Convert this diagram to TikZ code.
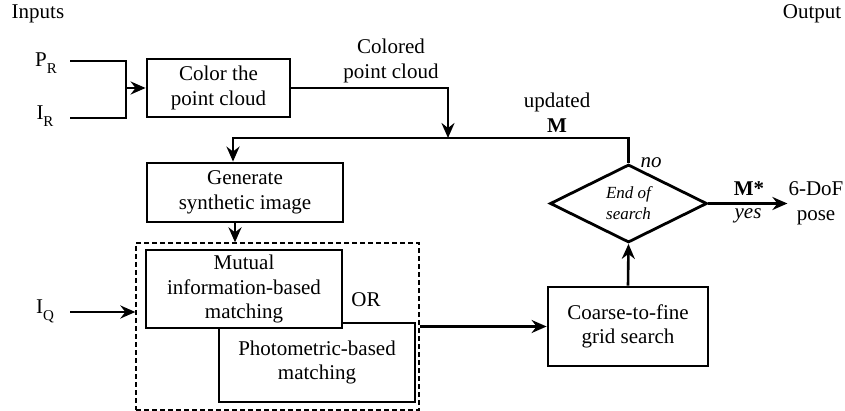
\documentclass[tikz,border=0pt]{standalone}
\usepackage{fontspec}
\setmainfont{Liberation Serif}
\usetikzlibrary{shapes.geometric,arrows.meta,positioning}

\newcommand{\lowsub}[1]{\raisebox{-7pt}{\fontsize{15}{15}\selectfont #1}}

\tikzset{
    box/.style={draw, line width=2.8pt, align=center, inner sep=0pt, fill=white},
    lbl/.style={align=center, inner sep=1pt},
    wire/.style={line width=2.6pt},
    arr/.style={wire, -{Stealth[length=15pt,width=13pt,inset=5pt]}}
}

\begin{document}
\begin{tikzpicture}[x=1pt,y=-1pt,font=\fontsize{21}{24.5}\selectfont]
        \useasboundingbox (0,0) rectangle (845,411);
        % Headings
        \node[lbl] (inputs) at (38,14) {Inputs};
        \node[lbl] (output) at (812,14) {Output};
        % Inputs
        \node[lbl] (pr) at (46,63) {P\lowsub{R}};
        \node[lbl] (ir) at (45,116) {I\lowsub{R}};
        \node[lbl] (iq) at (45,311) {I\lowsub{Q}};
        \coordinate (pr0) at (70,61);
        \coordinate (ir0) at (70,118);
        \coordinate (iq0) at (70,312);
        \coordinate (join) at (126,88);
        \coordinate (merge) at (448,138);
        % Boxes
        \node[box, minimum width=143pt, minimum height=58pt] (color) at (218.5,88) {Color the\\point cloud};
        \node[box, minimum width=196pt, minimum height=59pt] (generate) at (245,192.5) {Generate\\synthetic image};
        \node[draw, dash pattern=on 5pt off 3pt, line width=1.3pt, minimum width=283pt, minimum height=167pt] (match) at (277.5,326.5) {};
        \node[box, minimum width=196pt, minimum height=79pt] (photo) at (317,362.5) {Photometric-based\\matching};
        \node[box, minimum width=196pt, minimum height=78pt] (mutual) at (244,289) {Mutual\\information-based\\matching};
        \node[lbl] (or) at (366,300) {OR};
        \node[box, minimum width=160pt, minimum height=79pt] (coarse) at (628,326.5) {Coarse-to-fine\\grid search};
        \node[draw, diamond, line width=2.8pt, inner sep=0pt, minimum width=157pt, minimum height=63pt,
              align=center, font=\fontsize{17}{21}\selectfont\itshape] (search) at (628.5,203.5) {End of\\search};
        \node[lbl] (pose) at (816,203.5) {6-DoF\\pose};
        % Labels on the wires
        \node[lbl] (colored) at (391,61) {Colored\\point cloud};
        \node[lbl] (updated) at (557,112.5) {updated\\\textbf{M}};
        \node[lbl, font=\fontsize{21}{24.5}\selectfont\itshape] (no) at (651,163) {no};
        \node[lbl, font=\fontsize{21}{24.5}\selectfont\bfseries] (mstar) at (749,189) {M*};
        \node[lbl, font=\fontsize{21}{24.5}\selectfont\itshape] (yes) at (748,216) {yes};
        % Wires
        \draw[wire] (pr0) -| (join) |- (ir0);
        \draw[arr] (join) -- (color.west);
        \draw[arr] (color.east) -| (merge);
        \draw[arr] (search.north) -- (search.north |- merge) -| ([xshift=-12pt]generate.north);
        \draw[arr] ([xshift=-10pt]generate.south) -- ([xshift=-10pt]generate.south |- match.north);
        \draw[arr] (iq0) -- (iq0 -| match.west);
        \draw[arr] (match.east) -- (coarse.west);
        \draw[arr] (coarse.north) -- (search.south);
        \draw[arr] (search.east) -- (pose.west);
    \end{tikzpicture}
\end{document}
